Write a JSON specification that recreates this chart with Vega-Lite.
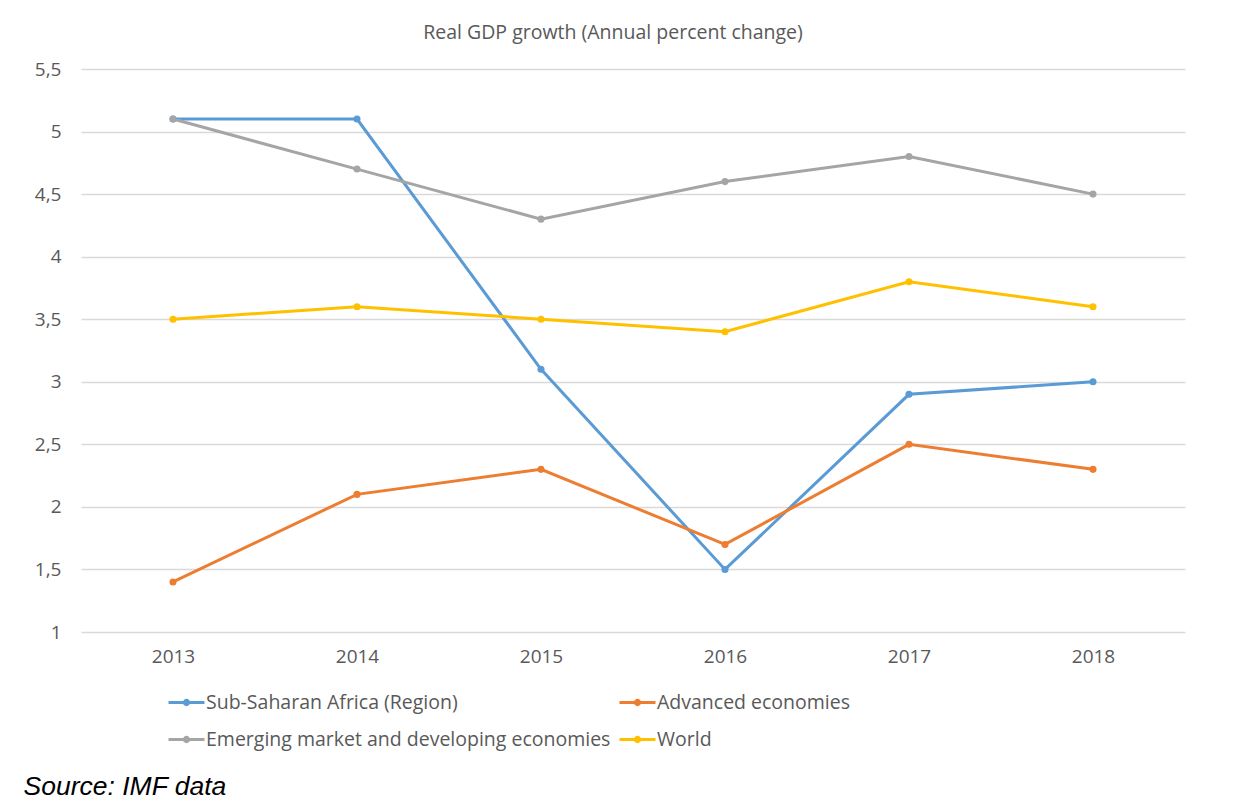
{
  "$schema": "https://vega.github.io/schema/vega-lite/v6.json",
  "width": 1104,
  "height": 563,
  "autosize": {"type": "none"},
  "padding": {"left": 81, "top": 69, "right": 75, "bottom": 169},
  "background": "white",
  "config": {"view": {"stroke": null}, "font": "Open Sans"},
  "title": {
    "text": "Real GDP growth (Annual percent change)",
    "fontSize": 19.5,
    "fontWeight": "normal",
    "color": "#595959",
    "font": "Open Sans",
    "anchor": "middle",
    "dx": -20,
    "offset": 17
  },
  "data": {
    "values": [
      {"series": "Sub-Saharan Africa (Region)", "year": "2013", "value": 5.1},
      {"series": "Sub-Saharan Africa (Region)", "year": "2014", "value": 5.1},
      {"series": "Sub-Saharan Africa (Region)", "year": "2015", "value": 3.1},
      {"series": "Sub-Saharan Africa (Region)", "year": "2016", "value": 1.5},
      {"series": "Sub-Saharan Africa (Region)", "year": "2017", "value": 2.9},
      {"series": "Sub-Saharan Africa (Region)", "year": "2018", "value": 3.0},
      {"series": "Advanced economies", "year": "2013", "value": 1.4},
      {"series": "Advanced economies", "year": "2014", "value": 2.1},
      {"series": "Advanced economies", "year": "2015", "value": 2.3},
      {"series": "Advanced economies", "year": "2016", "value": 1.7},
      {"series": "Advanced economies", "year": "2017", "value": 2.5},
      {"series": "Advanced economies", "year": "2018", "value": 2.3},
      {"series": "Emerging market and developing economies", "year": "2013", "value": 5.1},
      {"series": "Emerging market and developing economies", "year": "2014", "value": 4.7},
      {"series": "Emerging market and developing economies", "year": "2015", "value": 4.3},
      {"series": "Emerging market and developing economies", "year": "2016", "value": 4.6},
      {"series": "Emerging market and developing economies", "year": "2017", "value": 4.8},
      {"series": "Emerging market and developing economies", "year": "2018", "value": 4.5},
      {"series": "World", "year": "2013", "value": 3.5},
      {"series": "World", "year": "2014", "value": 3.6},
      {"series": "World", "year": "2015", "value": 3.5},
      {"series": "World", "year": "2016", "value": 3.4},
      {"series": "World", "year": "2017", "value": 3.8},
      {"series": "World", "year": "2018", "value": 3.6}
    ]
  },
  "mark": {"type": "line", "strokeWidth": 3, "point": {"filled": true, "size": 50, "opacity": 1}},
  "encoding": {
    "x": {
      "field": "year",
      "type": "ordinal",
      "scale": {"type": "point", "padding": 0.5},
      "axis": {
        "labelAngle": 0,
        "labelFontSize": 19,
        "labelColor": "#595959",
        "labelPadding": 15,
        "ticks": false,
        "domain": false,
        "grid": false,
        "title": "Source: IMF data",
        "titleFont": "Liberation Sans",
        "titleFontStyle": "italic",
        "titleFontWeight": "normal",
        "titleFontSize": 26.5,
        "titleColor": "black",
        "titleAlign": "left",
        "titleAnchor": null,
        "titleBaseline": "alphabetic",
        "titleX": -58,
        "titleY": 162
      }
    },
    "y": {
      "field": "value",
      "type": "quantitative",
      "scale": {"domain": [1, 5.5], "nice": false, "zero": false},
      "axis": {
        "values": [1, 1.5, 2, 2.5, 3, 3.5, 4, 4.5, 5, 5.5],
        "labelExpr": "replace(format(datum.value, '~g'), '.', ',')",
        "labelFontSize": 19,
        "labelColor": "#595959",
        "labelPadding": 20,
        "ticks": false,
        "domain": false,
        "grid": true,
        "gridColor": "#d9d9d9",
        "gridWidth": 1.3,
        "title": null
      }
    },
    "color": {
      "field": "series",
      "type": "nominal",
      "sort": ["Sub-Saharan Africa (Region)", "Advanced economies", "Emerging market and developing economies", "World"],
      "scale": {
        "domain": ["Sub-Saharan Africa (Region)", "Advanced economies", "Emerging market and developing economies", "World"],
        "range": ["#5B9BD5", "#ED7D31", "#A5A5A5", "#FFC000"]
      },
      "legend": {
        "orient": "none",
        "legendX": 86,
        "legendY": 614,
        "columns": 2,
        "direction": "horizontal",
        "title": null,
        "columnPadding": 2,
        "rowPadding": 8,
        "labelOffset": 0,
        "labelLimit": 0,
        "labelFontSize": 19.5,
        "labelColor": "#595959",
        "labelFont": "Open Sans",
        "symbolType": "M-1,0H1M-0.12,0A0.12,0.12 0 1,0 0.12,0A0.12,0.12 0 1,0 -0.12,0",
        "symbolSize": 1296,
        "symbolStrokeWidth": 3
      }
    }
  }
}
